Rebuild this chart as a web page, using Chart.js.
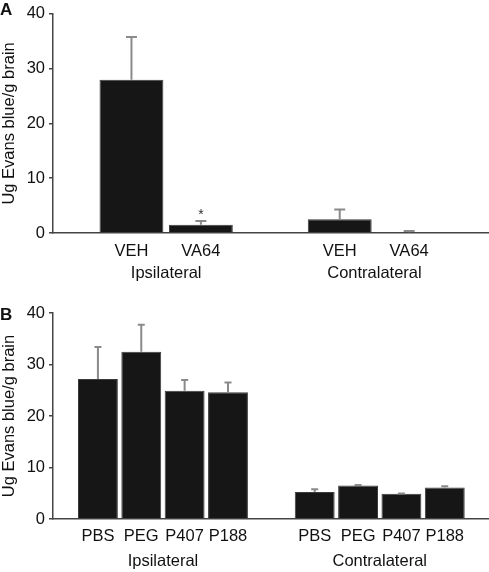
<!DOCTYPE html>
<html>
<head>
<meta charset="utf-8">
<script src="https://cdn.jsdelivr.net/npm/chart.js@4"></script>
<style>
  html, body { margin: 0; padding: 0; background: #fff; }
  #wrap { position: relative; width: 489px; height: 572px; font-family: "Liberation Sans", Arial, sans-serif; }
  canvas { position: absolute; left: 0; }
  #chartA { top: 0; }
  #chartB { top: 286px; }
  .panel { position: absolute; left: 0; font-weight: bold; font-size: 17px; color: #111; line-height: 1; }
</style>
</head>
<body>
<div id="wrap">
  <canvas id="chartA" width="489" height="286"></canvas>
  <canvas id="chartB" width="489" height="286"></canvas>
  <div class="panel" style="top:1px;">A</div>
  <div class="panel" style="top:306px;">B</div>
</div>
<script>
// Datos panel A
var gruposA = ['Ipsilateral', 'Contralateral'];
var etiquetasA = ['VEH', 'VA64'];
var valoresA = [[28.0, 1.5], [2.5, 0.15]];
var erroresA = [[7.8, 0.7], [1.8, 0.2]];
var marcasA = [['', '*'], ['', '']];

// Datos panel B
var gruposB = ['Ipsilateral', 'Contralateral'];
var etiquetasB = ['PBS', 'PEG', 'P407', 'P188'];
var valoresB = [[27.2, 32.5, 24.9, 24.6], [5.25, 6.5, 4.9, 6.1]];
var erroresB = [[6.2, 5.2, 2.1, 1.9], [0.55, 0.1, 0.05, 0.25]];
var marcasB = [['', '', '', ''], ['', '', '', '']];

// Escala Y comun
var ejeY = { min: 0, max: 40, paso: 10 };
var tituloY = 'Ug Evans blue/g brain';

var fuente = { family: '"Liberation Sans", Arial, sans-serif', size: 16.5 };
var colorTexto = '#111';
var colorEje = '#444';

// Barras de error (solo hacia arriba) y asteriscos
var barrasError = {
    id: 'barrasError',
    afterDatasetsDraw: function (chart, args, opts) {
        var ctx = chart.ctx;
        var y = chart.scales.y;
        var ds = chart.data.datasets[0];
        var meta = chart.getDatasetMeta(0);
        ctx.save();
        meta.data.forEach(function (bar, i) {
            var tope = y.getPixelForValue(ds.data[i].y + ds.errores[i]);
            ctx.strokeStyle = '#8a8a8a';
            ctx.lineWidth = 2;
            ctx.beginPath();
            ctx.moveTo(bar.x, bar.y);
            ctx.lineTo(bar.x, tope);
            ctx.moveTo(bar.x - opts.cap / 2, tope);
            ctx.lineTo(bar.x + opts.cap / 2, tope);
            ctx.stroke();
            if (ds.marcas[i]) {
                ctx.fillStyle = '#333';
                ctx.font = '14px "Liberation Sans", Arial, sans-serif';
                ctx.textAlign = 'center';
                ctx.textBaseline = 'middle';
                ctx.fillText(ds.marcas[i], bar.x, tope - 6);
            }
        });
        ctx.restore();
    }
};

function crearGrafica(id, grupos, etiquetas, valores, errores, marcas, cfg) {
    var n = etiquetas.length;
    var datos = [], errs = [], mks = [], posiciones = [], textos = [], centros = [];
    grupos.forEach(function (g, gi) {
        etiquetas.forEach(function (et, i) {
            var x = gi * (n + 1) + i;
            datos.push({ x: x, y: valores[gi][i] });
            errs.push(errores[gi][i]);
            mks.push(marcas[gi][i]);
            posiciones.push(x);
            textos.push(et);
        });
        centros.push(gi * (n + 1) + (n - 1) / 2);
    });

    return new Chart(document.getElementById(id).getContext('2d'), {
        type: 'bar',
        data: {
            datasets: [{
                data: datos,
                errores: errs,
                marcas: mks,
                backgroundColor: '#161616',
                borderColor: '#3c3c3c',
                borderWidth: 1,
                categoryPercentage: 0.92,
                barPercentage: 1
            }]
        },
        options: {
            responsive: false,
            animation: false,
            layout: { padding: { top: cfg.arriba, left: 0, right: 0, bottom: 0 } },
            plugins: {
                legend: { display: false },
                tooltip: { enabled: false },
                barrasError: { cap: cfg.cap }
            },
            scales: {
                x: {
                    type: 'linear',
                    offset: false,
                    bounds: 'data',
                    min: cfg.xmin,
                    max: cfg.xmax,
                    grid: { display: false, drawTicks: false, tickLength: 0 },
                    border: { display: true, color: colorEje, width: 1.5 },
                    afterBuildTicks: function (scale) {
                        scale.ticks = posiciones.map(function (v) { return { value: v }; });
                    },
                    afterFit: function (scale) { scale.height = 29; },
                    ticks: {
                        autoSkip: false,
                        maxRotation: 0,
                        padding: cfg.padX,
                        color: colorTexto,
                        font: fuente,
                        callback: function (v, i) { return textos[i]; }
                    }
                },
                grupo: {
                    type: 'linear',
                    position: 'bottom',
                    offset: false,
                    weight: 1,
                    bounds: 'data',
                    min: cfg.xmin,
                    max: cfg.xmax,
                    grid: { display: false, drawTicks: false, tickLength: 0 },
                    border: { display: false },
                    afterBuildTicks: function (scale) {
                        scale.ticks = centros.map(function (v) { return { value: v }; });
                    },
                    afterFit: function (scale) { scale.height = 24; },
                    ticks: {
                        autoSkip: false,
                        maxRotation: 0,
                        padding: cfg.padG,
                        color: colorTexto,
                        font: fuente,
                        callback: function (v, i) { return grupos[i]; }
                    }
                },
                y: {
                    min: ejeY.min,
                    max: ejeY.max,
                    grid: { drawOnChartArea: false, drawTicks: true, tickLength: 4, color: colorEje, lineWidth: 1.5 },
                    border: { display: true, color: colorEje, width: 1.5 },
                    afterFit: function (scale) { scale.width = 53; },
                    ticks: {
                        stepSize: ejeY.paso,
                        padding: 4,
                        color: colorTexto,
                        font: fuente
                    },
                    title: {
                        display: true,
                        text: tituloY,
                        color: colorTexto,
                        font: fuente,
                        padding: 0
                    }
                }
            }
        },
        plugins: [barrasError]
    });
}

crearGrafica('chartA', gruposA, etiquetasA, valoresA, erroresA, marcasA,
    { arriba: 12, xmin: -1.13, xmax: 5.15, padX: 8.5, padG: 1.5, cap: 11 });
crearGrafica('chartB', gruposB, etiquetasB, valoresB, erroresB, marcasB,
    { arriba: 27, xmin: -1.036, xmax: 9.02, padX: 7.5, padG: 3.5, cap: 7 });
</script>
</body>
</html>
